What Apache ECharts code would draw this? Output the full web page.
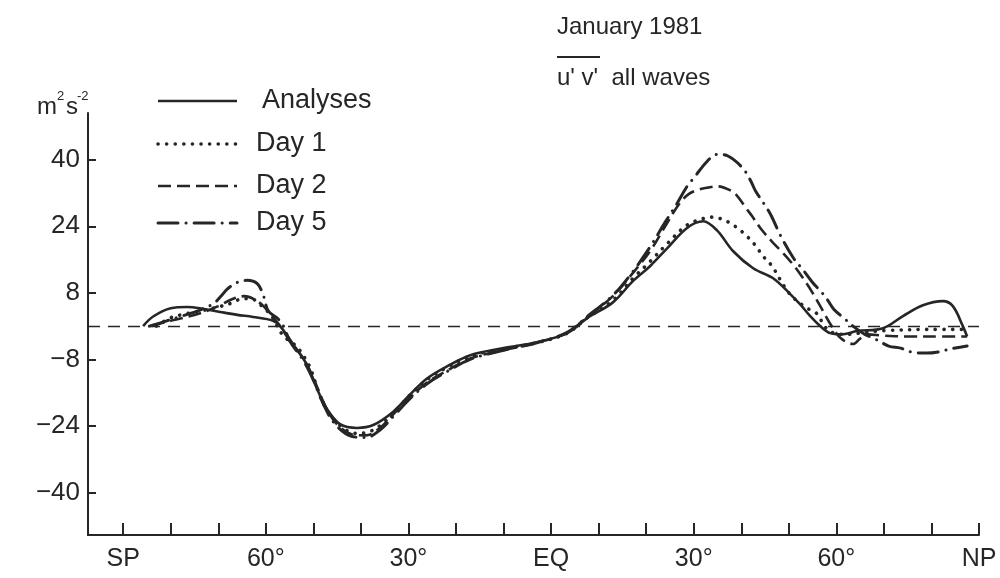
<!DOCTYPE html>
<html><head><meta charset="utf-8">
<script src="https://cdn.jsdelivr.net/npm/echarts@6/dist/echarts.min.js"></script>
<style>html,body{margin:0;padding:0;background:#fff}#c{width:1000px;height:578px}</style>
</head><body><div id="c"></div>
<script>
// latitude ticks (degrees, SP = -90, NP = 90)
const latTicks = [-90,-80,-70,-60,-50,-40,-30,-20,-10,0,10,20,30,40,50,60,70,80,90];
const latLabelValues = [-90,-60,-30,0,30,60,90];
const latLabelText = ['SP','60°','30°','EQ','30°','60°','NP'];
const valueTicks = [-40,-24,-8,8,24,40];
const seriesNames = ['Analyses','Day 1','Day 2','Day 5'];

// [latitude, u'v' (m2 s-2)]
const analyses = [[-85.8,0],[-83.7,2.3],[-80,4.3],[-76.5,4.6],[-73,4.1],[-69.6,3.4],[-66,2.7],[-62.7,2.2],[-58.5,1.3],[-57,0],[-54.3,-4.3],[-51.3,-9.4],[-49.2,-15.2],[-47.1,-20],[-44.4,-23.6],[-40.8,-24.5],[-37.4,-23.8],[-33.2,-20.6],[-29.7,-16.5],[-26.1,-12.6],[-21.9,-9.7],[-17,-7],[-10,-5.3],[-3,-3.9],[3.4,-1.7],[7.6,1.9],[13,5.7],[17.2,10.8],[20.8,14.4],[24.4,18.7],[28.6,23.6],[32,25.2],[34.9,23],[38.3,18],[42.5,13.9],[46.7,11.5],[50.3,7.7],[52.4,5.2],[54.5,2.4],[56.6,0],[58.7,-1.7],[61,-2],[64.4,-1.2],[69.8,-0.5],[74,2.4],[78.2,5],[82.4,6],[84.5,4.8],[86.6,0],[87.5,-2.5]];
const day1 = [[-83,0],[-80,2],[-77,2.9],[-73,3.8],[-70,4.6],[-67,5.6],[-65,6.6],[-62.6,6.4],[-61,5],[-58.7,2.3],[-57,-1.3],[-55.5,-3.2],[-53.6,-4.8],[-51.5,-8.2],[-50.5,-10.5],[-49,-15.5],[-47,-20.5],[-44,-24.3],[-41,-25.8],[-38,-25.3],[-35,-23],[-32,-19.5],[-29.7,-16.6],[-26,-12.8],[-22,-10],[-17,-7.2],[-10,-5.5],[-3,-4],[3.4,-1.7],[7.6,2],[13,6.2],[17.2,11.5],[20.8,15.5],[24.4,19.8],[28.6,24.3],[32.4,26],[34,26.2],[36,25.7],[37.6,24.8],[39.3,23.5],[41.2,21.6],[42.9,19.5],[44.6,16.8],[46.5,14.4],[48,11.5],[50,8],[52,5.8],[54,4.2],[55.9,3],[57.5,0],[59,-1.5],[62,-2],[66,-1.5],[70,-1.1],[80,-0.8],[87.5,-0.8]];
const day2 = [[-84,0],[-81,1],[-78,1.8],[-74,3],[-70,4.8],[-67,6.5],[-64.5,7.2],[-62.5,6.5],[-60.5,4.8],[-58.5,2],[-57,0],[-55,-3.5],[-52,-8],[-50,-12.5],[-48,-18],[-45.5,-23],[-42,-26],[-39,-26.3],[-36,-24.5],[-33,-21],[-30,-17.5],[-26,-13.5],[-22,-10.8],[-17,-7.8],[-10,-5.8],[-3,-4],[3.4,-1.6],[7.6,2.2],[13,7.2],[17,12.5],[20.8,18],[24,24],[27,29.5],[29,31.8],[31,32.8],[33,33.3],[35,33.6],[37.6,32.7],[39,31.5],[41,28.4],[42.3,26.4],[44,23.6],[46.7,20],[48.6,17.8],[50.9,14.8],[53,11.5],[55,8],[57,4],[59,0],[61,-3],[63.5,-4.3],[65,-3],[66.5,-2],[70,-2.3],[75,-2.5],[80,-2.5],[87.5,-2.5]];
const day5 = [[-84.5,0],[-81,1.2],[-78,2.3],[-74,3.8],[-71,5.4],[-69.5,7.1],[-68,9],[-66,10.5],[-64,11],[-61.8,10.2],[-60.5,7.3],[-59.5,3.7],[-57.5,1.8],[-56.3,0],[-55,-3.5],[-52,-8.5],[-50,-13],[-48,-18.5],[-45.5,-23.5],[-42,-26.5],[-39,-26.8],[-36,-25],[-33,-21.5],[-30,-17.8],[-26,-13.8],[-22,-11],[-17,-8],[-10,-5.8],[-3,-4],[3.4,-1.5],[7.6,2.3],[13,7.4],[17,12.8],[20.8,19],[24,25],[26.5,29.5],[28.6,33.6],[30,35.6],[32.8,39.6],[34.9,41.3],[37.2,40.9],[40.3,38],[42,34.9],[43,32.5],[46,27.2],[48.2,21.9],[50.9,16.5],[53,13.5],[55,10.5],[57,8],[58.2,6.2],[59.5,4],[61.5,2],[63.5,0],[66,-2],[68,-3],[71,-4.8],[73.5,-5.3],[76,-6.3],[79,-6.5],[81.5,-6.2],[84,-5.5],[87.5,-4.8]];

const ink = '#262626';
const font = 'Liberation Sans';
const styles = [
  {type: 'solid', width: 2.6, cap: 'butt'},
  {type: [0.1, 8.5], width: 3.6, cap: 'round'},
  {type: [13, 6], width: 2.6, cap: 'butt'},
  {type: [20, 8, 0.1, 8], width: 3, cap: 'round'}
];
const datasets = [analyses, day1, day2, day5];

const chart = echarts.init(document.getElementById('c'), null, {renderer: 'canvas'});

const series = datasets.map((d, i) => ({
  name: seriesNames[i],
  type: 'line',
  data: d,
  smooth: 0.35,
  showSymbol: false,
  silent: true,
  lineStyle: {color: ink, width: styles[i].width, type: styles[i].type, cap: styles[i].cap},
  markLine: i === 0 ? {
    silent: true, symbol: 'none', label: {show: false},
    lineStyle: {color: ink, width: 1.3, type: [12, 8]},
    data: [{yAxis: 0}]
  } : undefined
}));

// legend drawn as graphics
const legendY = [101, 144, 186, 223];
const legendGraphics = [];
seriesNames.forEach((n, i) => {
  legendGraphics.push({
    type: 'line', silent: true,
    shape: {x1: 158, y1: legendY[i], x2: 237, y2: legendY[i]},
    style: {stroke: ink, lineWidth: styles[i].width, lineDash: styles[i].type === 'solid' ? null : styles[i].type, lineCap: styles[i].cap}
  });
  legendGraphics.push({
    type: 'text', silent: true,
    x: i === 0 ? 262 : 256, y: legendY[i],
    style: {text: n, font: '27px "' + font + '"', fill: ink, verticalAlign: 'middle', align: 'left'}
  });
});

const txt = (s, x, y, size) => ({type: 'text', silent: true, x: x, y: y,
  style: {text: s, font: size + 'px "' + font + '"', fill: ink, verticalAlign: 'middle', align: 'left'}});

chart.setOption({
  animation: false,
  backgroundColor: '#fff',
  grid: {left: 88, right: 21, top: 113, bottom: 43},
  xAxis: {
    type: 'value', min: -97.4, max: 90,
    axisLine: {show: true, onZero: false, lineStyle: {color: ink, width: 2}},
    axisTick: {show: true, inside: true, length: 12, lineStyle: {color: ink, width: 2}, customValues: latTicks},
    axisLabel: {
      customValues: latLabelValues, margin: 12,
      color: ink, fontFamily: font, fontSize: 25,
      formatter: v => latLabelText[latLabelValues.indexOf(Math.round(v))]
    },
    splitLine: {show: false}
  },
  yAxis: {
    type: 'value', min: -50.25, max: 51.25,
    axisLine: {show: true, onZero: false, lineStyle: {color: ink, width: 2}},
    axisTick: {show: true, inside: true, length: 8, lineStyle: {color: ink, width: 2}, customValues: valueTicks},
    axisLabel: {
      customValues: valueTicks, margin: 8,
      color: ink, fontFamily: font, fontSize: 26,
      formatter: v => (v < 0 ? '\u2212' + Math.abs(v) : String(v))
    },
    splitLine: {show: false}
  },
  series: series,
  graphic: [
    txt('m', 37, 107, 24),
    txt('2', 57, 96, 13),
    txt('s', 66, 107, 24),
    txt('-2', 77, 96, 13),
    txt('January 1981', 557, 27, 24),
    {type: 'line', silent: true, shape: {x1: 557, y1: 57, x2: 600, y2: 57}, style: {stroke: ink, lineWidth: 2}},
    txt("u' v'  all waves", 557, 78, 24)
  ].concat(legendGraphics)
});
</script>
</body></html>
